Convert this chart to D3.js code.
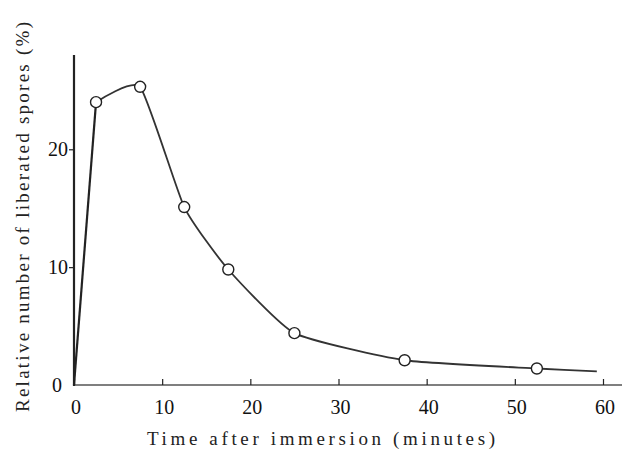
<!DOCTYPE html>
<html><head><meta charset="utf-8">
<script src="https://cdn.jsdelivr.net/npm/d3@7"></script>
<style>body{margin:0;background:#fff}svg{display:block}</style>
</head><body>
<svg id="c" width="624" height="453"></svg>
<script>
const times = [2.5, 7.5, 12.5, 17.5, 25, 37.5, 52.5];
const values = [24.0, 25.3, 15.1, 9.8, 4.4, 2.1, 1.4];
const curveStart = [0, 0];
const curveEnd = [59.3, 1.15];
const xTicks = [0, 10, 20, 30, 40, 50, 60];
const yTicks = [0, 10, 20];
const xLabel = "Time after immersion (minutes)";
const yLabel = "Relative number of liberated spores (%)";

const svg = d3.select("#c");
const x = d3.scaleLinear().domain([0, 60]).range([74, 603]);
const y = d3.scaleLinear().domain([0, 28]).range([385, 55]);
const ink = "#222";
const font = "'Liberation Serif','DejaVu Serif',serif";

// axes lines
svg.append("line").attr("x1", x(0)).attr("x2", 622).attr("y1", y(0)).attr("y2", y(0))
  .attr("stroke", "#555").attr("stroke-width", 1.6);
svg.append("line").attr("x1", x(0)).attr("x2", x(0)).attr("y1", y(0) + 1).attr("y2", y(28))
  .attr("stroke", ink).attr("stroke-width", 2.2);

// x ticks (inward)
const xa = svg.append("g").attr("transform", `translate(0,${y(0)})`)
  .call(d3.axisTop(x).tickValues(xTicks).tickSize(6).tickFormat(""));
xa.select(".domain").remove();
xa.selectAll("line").attr("stroke", ink).attr("stroke-width", 1.2);
svg.append("g").selectAll("text").data(xTicks).join("text")
  .attr("x", d => x(d) + 2).attr("y", 414).attr("text-anchor", "middle")
  .attr("font-family", font).attr("font-size", 20).attr("fill", "#111").text(d => d);

// y ticks (outward)
const ya = svg.append("g").attr("transform", `translate(${x(0)},0)`)
  .call(d3.axisLeft(y).tickValues(yTicks.filter(d => d > 0)).tickSize(5).tickFormat(""));
ya.select(".domain").remove();
ya.selectAll("line").attr("stroke", ink).attr("stroke-width", 1.2);
svg.append("g").selectAll("text").data(yTicks).join("text")
  .attr("x", d => d === 0 ? 62 : 68).attr("y", d => y(d) + 7).attr("text-anchor", "end")
  .attr("font-family", font).attr("font-size", 20).attr("fill", "#111").text(d => d);

// curve
const pts = times.map((t, i) => [t, values[i]]);
const line = d3.line().x(d => x(d[0])).y(d => y(d[1]));
svg.append("path").datum([curveStart, pts[0]])
  .attr("d", line).attr("fill", "none").attr("stroke", ink).attr("stroke-width", 2.2);
svg.append("path").datum(pts.concat([curveEnd]))
  .attr("d", line.curve(d3.curveCardinal.tension(0.5)))
  .attr("fill", "none").attr("stroke", "#333").attr("stroke-width", 1.8);

// markers
svg.append("g").selectAll("circle").data(pts).join("circle")
  .attr("cx", d => x(d[0])).attr("cy", d => y(d[1])).attr("r", 5.5)
  .attr("fill", "#fff").attr("stroke", ink).attr("stroke-width", 1.4);

// labels
svg.append("text").attr("x", 147).attr("y", 445)
  .attr("font-family", font).attr("font-size", 19).attr("fill", "#222")
  .attr("textLength", 348).attr("lengthAdjust", "spacing").text(xLabel);
svg.append("text").attr("transform", "translate(29,412) rotate(-90)")
  .attr("font-family", font).attr("font-size", 19).attr("fill", "#222")
  .attr("textLength", 390).attr("lengthAdjust", "spacing").text(yLabel);
</script>
</body></html>
